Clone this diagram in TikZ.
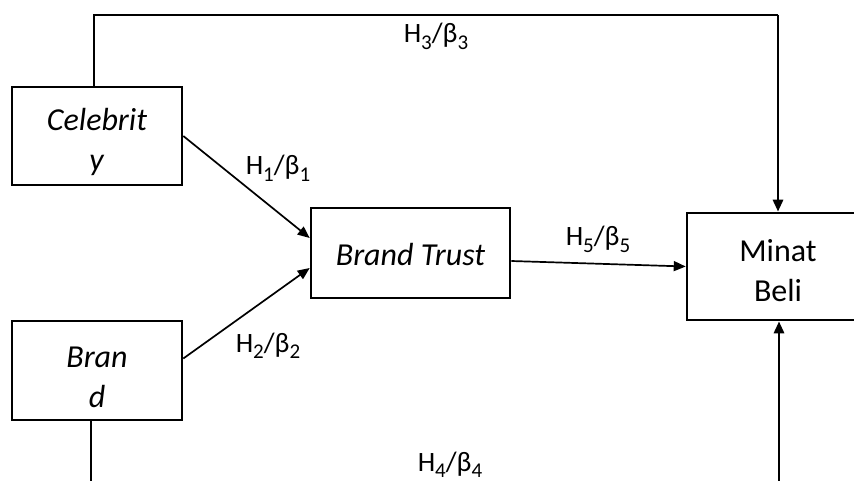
\documentclass[tikz,border=0pt]{standalone}
\usepackage{fontspec}
\setmainfont{Carlito}
\usetikzlibrary{arrows.meta,calc}
\tikzset{
  box/.style={draw, line width=2.6pt, inner sep=0pt},
  boxtext/.style={inner sep=0pt, align=center, font=\fontsize{32}{40}\selectfont},
  link/.style={line width=1.7pt, -{Triangle[length=12pt,width=10pt]}},
  heavylink/.style={line width=2.8pt, -{Triangle[length=12pt,width=10pt]}},
  thinline/.style={line width=1.4pt},
  hlabel/.style={anchor=base, inner sep=0pt, font=\fontsize{28}{32}\selectfont},
}
% path label: hypothesis and coefficient with lowered index
\newcommand{\idx}[1]{\raisebox{-6.5pt}{\fontsize{21}{21}\selectfont #1}}
\newcommand{\hb}[1]{H\idx{#1}/β\idx{#1}}
\begin{document}
\begin{tikzpicture}[x=1pt,y=-1pt]
  \useasboundingbox (0,0) rectangle (854,481);
  \clip (0,0) rectangle (854,481);

  % variable boxes
  \node[box, minimum width=170pt, minimum height=98pt] (cel) at (97,136) {};
  \node[box, minimum width=170pt, minimum height=99pt] (brand) at (97,370.5) {};
  \node[box, minimum width=199pt, minimum height=90pt] (bt) at (410.5,253) {};
  \node[box, minimum width=182pt, minimum height=107pt] (minat) at (778,266.5) {};

  % variable names
  \node[boxtext] (celname) at ([yshift=-6pt]cel.center) {\textit{Celebrit}\\\textit{y}};
  \node[boxtext] (brandname) at ([yshift=-7pt]brand.center) {\textit{Bran}\\\textit{d}};
  \node[boxtext] (btname) at ([yshift=-2pt]bt.center) {\textit{Brand Trust}};
  \node[boxtext] (minatname) at ([yshift=-4pt]minat.center) {Minat\\Beli};

  % routing points of the direct paths
  \coordinate (top) at (778,15);
  \coordinate (topleft) at (94,15);
  \coordinate (bot) at (779,481);
  \coordinate (botleft) at (91,481);

  % mediated paths
  \draw[link] (cel.east) -- ([yshift=15pt]bt.west);
  \draw[link] ([yshift=12pt]brand.east) -- ([yshift=-15pt]bt.west);
  \draw[link] ([yshift=-8pt]bt.east) -- (minat.west);

  % direct paths
  \draw[thinline] ([xshift=-3pt]cel.north) -- (topleft) -- (top);
  \draw[heavylink] (top) -- (minat.north);
  \draw[thinline] ([xshift=-6pt]brand.south) -- (botleft);
  \draw[heavylink] (bot) -- ([xshift=1pt]minat.south);

  % path labels
  \node[hlabel] (l1) at (278,175) {\hb{1}};
  \node[hlabel] (l2) at (268,352) {\hb{2}};
  \node[hlabel] (l3) at (436,43) {\hb{3}};
  \node[hlabel] (l4) at (450,471) {\hb{4}};
  \node[hlabel] (l5) at (598,246) {\hb{5}};
\end{tikzpicture}
\end{document}
